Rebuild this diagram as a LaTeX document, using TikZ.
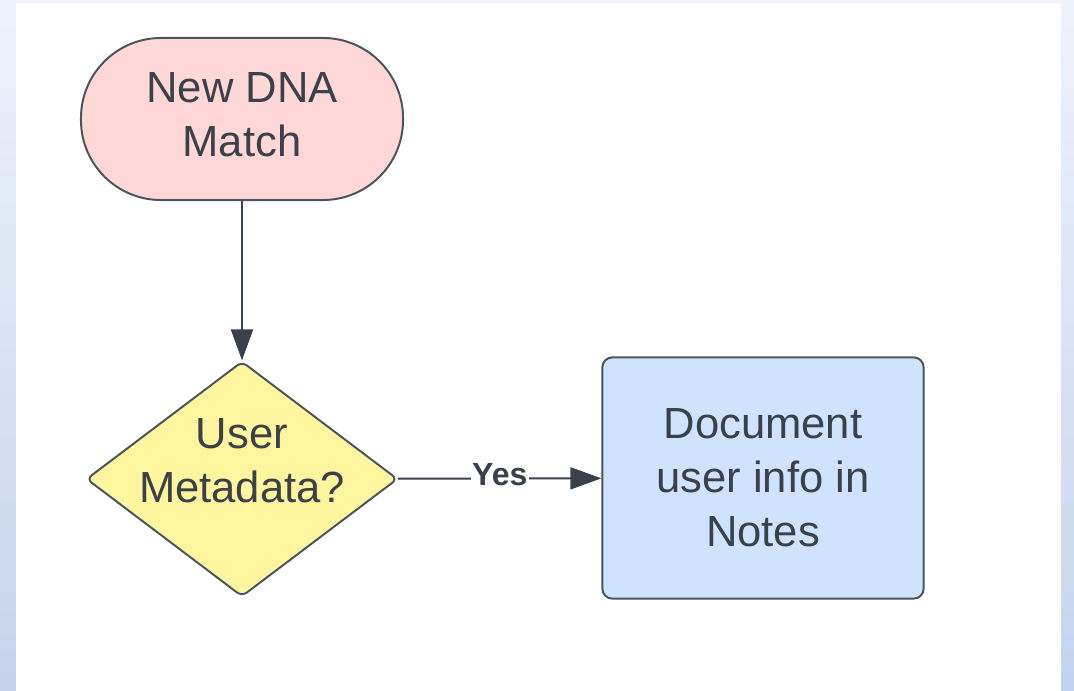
\documentclass[tikz,border=0pt]{standalone}
\usepackage{fontspec}
\setmainfont{Liberation Sans}
\usepackage{tikz}
\usepackage{xcolor}
\usetikzlibrary{shapes.geometric,arrows.meta}

\definecolor{edgegray}{HTML}{4B535C}
\definecolor{inkgray}{HTML}{3A414A}
\definecolor{startpink}{HTML}{FFD7D7}
\definecolor{askyellow}{HTML}{FFF59E}
\definecolor{stepblue}{HTML}{CFE3FF}
\definecolor{bgtop}{HTML}{EEF2FA}
\definecolor{bgbottom}{HTML}{C4D3EE}

\tikzset{
    terminal/.style={draw=edgegray, line width=1.4pt, fill=startpink, rounded corners=2cm,
        minimum width=8.05cm, minimum height=4.05cm, inner sep=0pt},
    decision/.style={draw=edgegray, line width=1.4pt, fill=askyellow, diamond, rounded corners=0.15cm,
        minimum width=7.78cm, minimum height=5.88cm, inner sep=0pt},
    process/.style={draw=edgegray, line width=1.4pt, fill=stepblue, rounded corners=0.25cm,
        minimum width=8.03cm, minimum height=6.03cm, inner sep=0pt},
    boxtext/.style={align=center, text=inkgray, font=\fontsize{31}{38.5}\selectfont},
    flowarrow/.style={draw=inkgray, line width=1.4pt, -{Triangle[length=22pt,width=15.6pt]}}
}

\begin{document}
\begin{tikzpicture}[x=0.025cm, y=-0.025cm]
    % frame
    \shade[top color=bgtop, bottom color=bgbottom] (0,0) rectangle (1074,691);
    \fill[white] (16,3) rectangle (1061,691);
    \useasboundingbox (0,0) rectangle (1074,691);

    % shapes
    \node[terminal] (newmatch) at (242,119) {};
    \node[boxtext] (newmatchtext) at (242,115) {New DNA\\Match};
    \node[decision] (metadata) at (242,479) {};
    \node[boxtext] (metadatatext) at (242,461) {User\\Metadata?};
    \node[process, boxtext] (notes) at (763,478) {Document\\user info in\\Notes};

    % connectors
    \draw[flowarrow] (newmatch) -- (metadata);
    \draw[flowarrow] (metadata) -- node[fill=white, inner sep=1pt, yshift=3pt, text=inkgray,
        font=\fontsize{22.8}{26}\selectfont\bfseries] (yes) {Yes} (notes);

\end{tikzpicture}
\end{document}
